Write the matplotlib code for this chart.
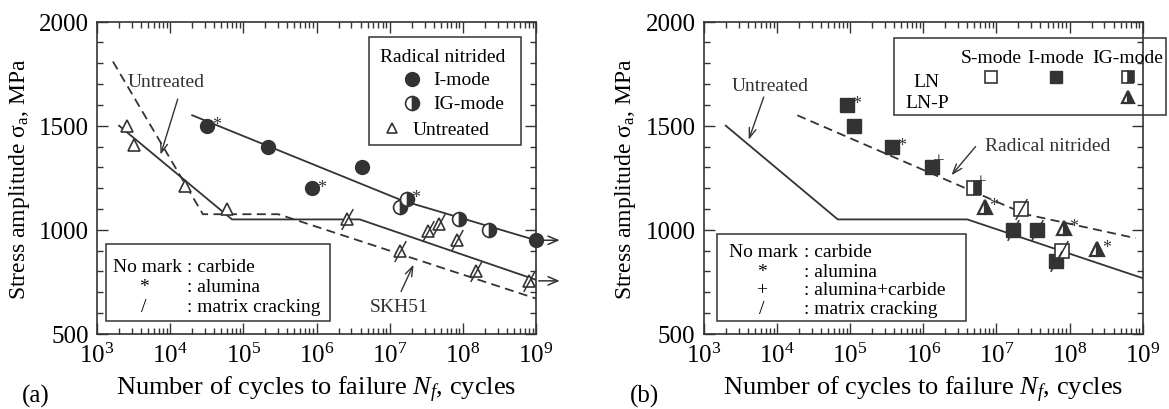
import matplotlib
matplotlib.use('Agg')
import matplotlib.pyplot as plt
import numpy as np
from matplotlib.path import Path
from matplotlib.patches import Rectangle
from matplotlib.ticker import MultipleLocator, FixedLocator

plt.rcParams['font.family'] = ['Liberation Serif', 'DejaVu Serif']
plt.rcParams['mathtext.fontset'] = 'custom'
plt.rcParams['mathtext.rm'] = 'Liberation Serif'
plt.rcParams['mathtext.it'] = 'Liberation Serif:italic'

DARK = '#333333'

# ---- panel (a) data ----
a_i_N = [3.2e4, 2.2e5, 8.8e5, 4.2e6, 1e9]
a_i_S = [1500, 1400, 1200, 1300, 950]
a_i_mark = ['*', '', '*', '', '']

a_ig_N = [1.4e7, 1.7e7, 9e7, 2.3e8]
a_ig_S = [1110, 1150, 1050, 1000]
a_ig_mark = ['', '*', '', '']

a_un_N = [2.6e3, 3.2e3, 1.6e4, 6e4, 2.6e6, 1.4e7, 3.3e7, 4.7e7, 8.3e7, 1.5e8, 8e8]
a_un_S = [1500, 1405, 1210, 1100, 1050, 900, 995, 1030, 950, 800, 755]
a_un_mark = ['', '', '', '', '/', '/', '/', '/', '/', '/', '/']

a_rn_line_N = [2e4, 1.5e7, 1e9]
a_rn_line_S = [1550, 1140, 950]
a_un_line_N = [2e3, 7e4, 3.9e6, 1e9]
a_un_line_S = [1500, 1050, 1050, 760]
a_skh_line_N = [1.65e3, 2.8e4, 3e5, 1e9]
a_skh_line_S = [1808, 1075, 1075, 670]

runout_N = [1e9, 1e9]
runout_S = [950, 755]

# ---- panel (b) data ----
b_i_N = [9e4, 1.15e5, 3.8e5, 1.3e6, 1.7e7, 3.6e7, 6.6e7]
b_i_S = [1600, 1500, 1400, 1300, 1000, 1000, 850]
b_i_mark = ['*', '', '*', '+', '/', '/', '/']

b_ig_N = [4.9e6]
b_ig_S = [1200]
b_ig_mark = ['+']

b_s_N = [2.2e7, 7.9e7]
b_s_S = [1100, 900]
b_s_mark = ['/', '/']

b_lnp_N = [6.9e6, 8.5e7, 2.4e8]
b_lnp_S = [1110, 1010, 910]
b_lnp_mark = ['*', '*', '*']

b_un_line_N = [2e3, 6.8e4, 4e6, 1e9]
b_un_line_S = [1500, 1050, 1050, 768]
b_rn_line_N = [1.9e4, 2.5e7, 8e8]
b_rn_line_S = [1550, 1075, 960]

x_ticks = [1e3, 1e4, 1e5, 1e6, 1e7, 1e8, 1e9]
x_ticklabels = ['$10^{%d}$' % k for k in range(3, 10)]
x_minor = [m * 10.0 ** k for k in range(3, 9) for m in range(2, 10)]

slash = Path([(-0.55, -1.0), (0.55, 1.0)], [Path.MOVETO, Path.LINETO])


def setup(ax):
    ax.set_xscale('log')
    ax.set_xlim(1e3, 1e9)
    ax.set_ylim(500, 2000)
    ax.set_yticks([500, 1000, 1500, 2000])
    ax.yaxis.set_minor_locator(MultipleLocator(100))
    ax.set_xticks(x_ticks)
    ax.set_xticklabels(x_ticklabels)
    ax.xaxis.set_minor_locator(FixedLocator(x_minor))
    ax.xaxis.set_minor_formatter(plt.NullFormatter())
    ax.tick_params(which='both', direction='in', top=True, right=True,
                   labelsize=18, color=DARK, width=1)
    ax.tick_params(which='major', length=8, pad=6)
    ax.tick_params(which='minor', length=4)
    for s in ax.spines.values():
        s.set_linewidth(1.2)
        s.set_color(DARK)
    ax.set_xlabel('Number of cycles to failure $N_f$, cycles', fontsize=19, labelpad=5)
    ax.set_ylabel('Stress amplitude σ$_\\mathrm{a}$, MPa', fontsize=17, labelpad=5)


def draw(ax, N, S, marks, **kw):
    ax.plot(N, S, ls='none', clip_on=False, zorder=4, **kw)
    for n, s, m in zip(N, S, marks):
        if m == '/':
            ax.plot(n, s, marker=slash, ms=15, mec=DARK, mew=1.1, ls='none', zorder=5)
        elif m:
            ax.annotate(m, (n, s), xytext=(5, 1) if m == '*' else (7, 5),
                        textcoords='offset pixels',
                        fontsize=13 if m == '*' else 15, color=DARK,
                        ha='left' if m == '*' else 'center', va='center')


fig = plt.figure(figsize=(11.69, 4.10), dpi=100)
axL = fig.add_axes([0.083, 0.183, 0.3755, 0.762])
axR = fig.add_axes([0.602, 0.183, 0.3755, 0.762])
setup(axL)
setup(axR)

arrow_kw = dict(arrowstyle='->,head_length=0.7,head_width=0.25', color=DARK, lw=1)

# ---------- panel (a) ----------
axL.plot(a_rn_line_N, a_rn_line_S, color=DARK, lw=1.3)
axL.plot(a_un_line_N, a_un_line_S, color=DARK, lw=1.3)
axL.plot(a_skh_line_N, a_skh_line_S, color=DARK, lw=1.3, ls=(0, (5, 3)))
draw(axL, a_i_N, a_i_S, a_i_mark, marker='o', ms=10, mfc=DARK, mec=DARK)
draw(axL, a_ig_N, a_ig_S, a_ig_mark, marker='o', ms=10, fillstyle='right',
     mfc=DARK, mfcalt='white', mec=DARK, mew=1.2)
draw(axL, a_un_N, a_un_S, a_un_mark, marker='^', ms=8, mfc='white', mec=DARK, mew=1.2)
for n, s in zip(runout_N, runout_S):
    axL.annotate('', xy=(n * 2.3, s), xytext=(n, s), annotation_clip=False,
                 arrowprops=dict(arrowstyle='->,head_length=0.7,head_width=0.3', color=DARK, lw=1.1))

axL.text(2.65e3, 1712, 'Untreated', fontsize=14, va='center', ha='left', color=DARK)
axL.annotate('', xy=(7.2e3, 1348), xytext=(1.3e4, 1640), arrowprops=arrow_kw)
axL.text(5.4e6, 634, 'SKH51', fontsize=14, va='center', ha='left', color=DARK)
axL.annotate('', xy=(2.2e7, 845), xytext=(1.38e7, 692), arrowprops=arrow_kw)

# legend box (upper right)
tA = axL.transAxes
axL.add_patch(Rectangle((0.620, 0.604), 0.346, 0.345, transform=tA, fill=False,
                        ec=DARK, lw=1.1, zorder=6))
axL.text(0.788, 0.888, 'Radical nitrided', transform=tA, fontsize=14, ha='center', va='center')
axL.plot([0.718], [0.815], transform=tA, marker='o', ms=10, mfc=DARK, mec=DARK, ls='none')
axL.text(0.765, 0.815, 'I-mode', transform=tA, fontsize=14, ha='left', va='center')
axL.plot([0.718], [0.738], transform=tA, marker='o', ms=10, fillstyle='right',
         mfc=DARK, mfcalt='white', mec=DARK, mew=1.2, ls='none')
axL.text(0.765, 0.738, 'IG-mode', transform=tA, fontsize=14, ha='left', va='center')
axL.plot([0.672], [0.658], transform=tA, marker='^', ms=7, mfc='white', mec=DARK, mew=1.2, ls='none')
axL.text(0.718, 0.655, 'Untreated', transform=tA, fontsize=14, ha='left', va='center')

# legend box (lower left)
axL.add_patch(Rectangle((0.0205, 0.042), 0.5105, 0.246, transform=tA, fill=False,
                        ec=DARK, lw=1.1, zorder=6))
a_key_sym = ['No mark', '*', '/']
a_key_txt = [': carbide', ': alumina', ': matrix cracking']
a_key_y = [0.217, 0.153, 0.089]
for sym, txt, y in zip(a_key_sym, a_key_txt, a_key_y):
    if sym == 'No mark':
        axL.text(0.036, y, sym, transform=tA, fontsize=14, ha='left', va='center')
    else:
        axL.text(0.107, y, sym, transform=tA, fontsize=14, ha='center', va='center')
    axL.text(0.205, y, txt, transform=tA, fontsize=14, ha='left', va='center')

fig.text(0.019, 0.032, '(a)', fontsize=18, ha='left', va='center')

# ---------- panel (b) ----------
axR.plot(b_un_line_N, b_un_line_S, color=DARK, lw=1.3)
axR.plot(b_rn_line_N, b_rn_line_S, color=DARK, lw=1.3, ls=(0, (5, 3)))
draw(axR, b_i_N, b_i_S, b_i_mark, marker='s', ms=10, mfc=DARK, mec=DARK)
draw(axR, b_ig_N, b_ig_S, b_ig_mark, marker='s', ms=10, fillstyle='right',
     mfc=DARK, mfcalt='white', mec=DARK, mew=1.2)
draw(axR, b_s_N, b_s_S, b_s_mark, marker='s', ms=10, mfc='white', mec=DARK, mew=1.2)
draw(axR, b_lnp_N, b_lnp_S, b_lnp_mark, marker='^', ms=10, fillstyle='right',
     mfc=DARK, mfcalt='white', mec=DARK, mew=1.6)

axR.text(2.4e3, 1693, 'Untreated', fontsize=14, va='center', ha='left', color=DARK)
axR.annotate('', xy=(4e3, 1420), xytext=(6.8e3, 1650), arrowprops=arrow_kw)
axR.text(7.1e6, 1406, 'Radical nitrided', fontsize=14, va='center', ha='left', color=DARK)
axR.annotate('', xy=(2.3e6, 1252), xytext=(5.5e6, 1410), arrowprops=arrow_kw)

tB = axR.transAxes
axR.add_patch(Rectangle((0.433, 0.700), 0.619, 0.246, transform=tB, fill=False,
                        ec=DARK, lw=1.1, zorder=6, clip_on=False))
b_modes = ['S-mode', 'I-mode', 'IG-mode']
b_mode_x = [0.654, 0.802, 0.966]
for m, x in zip(b_modes, b_mode_x):
    axR.text(x, 0.885, m, transform=tB, fontsize=14, ha='center', va='center', clip_on=False)
axR.text(0.508, 0.808, 'LN', transform=tB, fontsize=14, ha='center', va='center')
axR.text(0.508, 0.741, 'LN-P', transform=tB, fontsize=14, ha='center', va='center')
axR.plot([0.654], [0.824], transform=tB, marker='s', ms=9, mfc='white', mec=DARK, mew=1.2, ls='none')
axR.plot([0.802], [0.824], transform=tB, marker='s', ms=9, mfc=DARK, mec=DARK, ls='none')
axR.plot([0.966], [0.824], transform=tB, marker='s', ms=9, fillstyle='right',
         mfc=DARK, mfcalt='white', mec=DARK, mew=1.2, ls='none')
axR.plot([0.966], [0.760], transform=tB, marker='^', ms=9, fillstyle='right',
         mfc=DARK, mfcalt='white', mec=DARK, mew=1.6, ls='none')

axR.add_patch(Rectangle((0.0296, 0.042), 0.5674, 0.277, transform=tB, fill=False,
                        ec=DARK, lw=1.1, zorder=6))
b_key_sym = ['No mark', '*', '+', '/']
b_key_txt = [': carbide', ': alumina', ': alumina+carbide', ': matrix cracking']
b_key_y = [0.265, 0.201, 0.141, 0.080]
for sym, txt, y in zip(b_key_sym, b_key_txt, b_key_y):
    if sym == 'No mark':
        axR.text(0.057, y, sym, transform=tB, fontsize=14, ha='left', va='center')
    else:
        axR.text(0.132, y, sym, transform=tB, fontsize=14, ha='center', va='center')
    axR.text(0.228, y, txt, transform=tB, fontsize=14, ha='left', va='center')

fig.text(0.539, 0.032, '(b)', fontsize=18, ha='left', va='center')

fig.savefig('out.png', dpi=100)
